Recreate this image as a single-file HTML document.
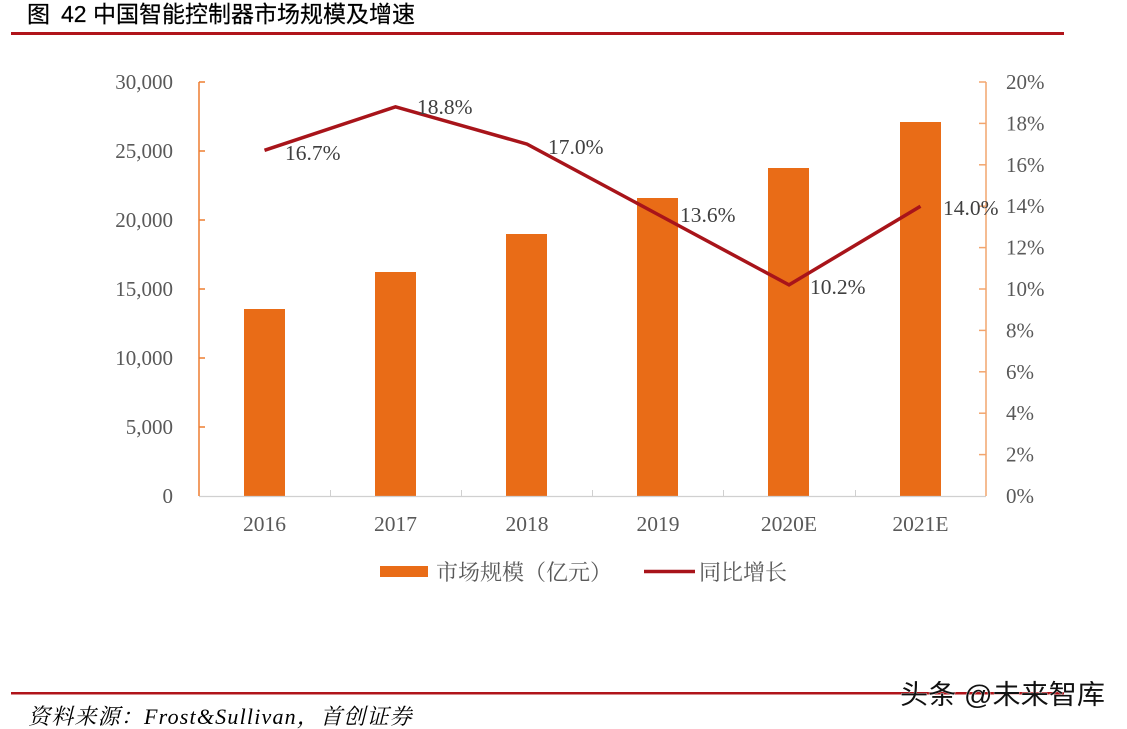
<!DOCTYPE html>
<html><head><meta charset="utf-8"><style>
html,body{margin:0;padding:0;background:#fff;}
body{width:1127px;height:729px;overflow:hidden;position:relative;}
svg{position:absolute;left:0;top:0;}
</style></head><body>
<svg width="1127" height="729" viewBox="0 0 1127 729" xmlns="http://www.w3.org/2000/svg">
<!-- title -->
<g font-family="'Liberation Sans','Noto Sans CJK SC',sans-serif" font-size="23" fill="#000" stroke="#000" stroke-width="0.2">
<text x="27" y="22">图</text>
<text x="61" y="22">42 中国智能控制器市场规模及增速</text>
</g>
<rect x="11" y="32" width="1053" height="3" fill="#B0141A"/>

<!-- bars -->
<g fill="#E96C17">
<rect x="244" y="309" width="41" height="187"/>
<rect x="375" y="272" width="41" height="224"/>
<rect x="506" y="234" width="41" height="262"/>
<rect x="637" y="198" width="41" height="298"/>
<rect x="768" y="168" width="41" height="328"/>
<rect x="900" y="122" width="41" height="374"/>
</g>

<!-- x axis -->
<line x1="199" y1="496.5" x2="986" y2="496.5" stroke="#D0D0D0" stroke-width="1.2"/>
<g stroke="#D0D0D0" stroke-width="1">
<line x1="330.5" y1="490" x2="330.5" y2="496"/>
<line x1="461.5" y1="490" x2="461.5" y2="496"/>
<line x1="592.5" y1="490" x2="592.5" y2="496"/>
<line x1="723.5" y1="490" x2="723.5" y2="496"/>
<line x1="855.5" y1="490" x2="855.5" y2="496"/>
</g>

<!-- left axis -->
<g stroke="#ED7D31" stroke-width="1.5">
<line x1="199" y1="82" x2="199" y2="496"/>
<line x1="199" y1="82" x2="205" y2="82"/>
<line x1="199" y1="151" x2="205" y2="151"/>
<line x1="199" y1="220" x2="205" y2="220"/>
<line x1="199" y1="289" x2="205" y2="289"/>
<line x1="199" y1="358" x2="205" y2="358"/>
<line x1="199" y1="427" x2="205" y2="427"/>
</g>
<!-- right axis -->
<g stroke="#F2A56E" stroke-width="1.5">
<line x1="986" y1="82" x2="986" y2="496"/>
<line x1="979" y1="82" x2="986" y2="82"/>
<line x1="979" y1="123.4" x2="986" y2="123.4"/>
<line x1="979" y1="164.8" x2="986" y2="164.8"/>
<line x1="979" y1="206.2" x2="986" y2="206.2"/>
<line x1="979" y1="247.6" x2="986" y2="247.6"/>
<line x1="979" y1="289" x2="986" y2="289"/>
<line x1="979" y1="330.4" x2="986" y2="330.4"/>
<line x1="979" y1="371.8" x2="986" y2="371.8"/>
<line x1="979" y1="413.2" x2="986" y2="413.2"/>
<line x1="979" y1="454.6" x2="986" y2="454.6"/>
</g>

<!-- left tick labels -->
<g font-family="'Liberation Serif',serif" font-size="21" fill="#595959" text-anchor="end">
<text x="173" y="89">30,000</text>
<text x="173" y="158">25,000</text>
<text x="173" y="227">20,000</text>
<text x="173" y="296">15,000</text>
<text x="173" y="365">10,000</text>
<text x="173" y="434">5,000</text>
<text x="173" y="503">0</text>
</g>
<!-- right tick labels -->
<g font-family="'Liberation Serif',serif" font-size="21" fill="#595959" text-anchor="start">
<text x="1006" y="89">20%</text>
<text x="1006" y="130.4">18%</text>
<text x="1006" y="171.8">16%</text>
<text x="1006" y="213.2">14%</text>
<text x="1006" y="254.6">12%</text>
<text x="1006" y="296">10%</text>
<text x="1006" y="337.4">8%</text>
<text x="1006" y="378.8">6%</text>
<text x="1006" y="420.2">4%</text>
<text x="1006" y="461.6">2%</text>
<text x="1006" y="503">0%</text>
</g>
<!-- x labels -->
<g font-family="'Liberation Serif',serif" font-size="21.5" fill="#595959" text-anchor="middle">
<text x="264.5" y="531">2016</text>
<text x="395.5" y="531">2017</text>
<text x="527" y="531">2018</text>
<text x="658" y="531">2019</text>
<text x="789" y="531">2020E</text>
<text x="920.5" y="531">2021E</text>
</g>

<!-- line -->
<polyline points="264.5,150.3 395.5,106.8 527,144.1 658,214.5 789,284.9 920.5,206.2" fill="none" stroke="#A8141A" stroke-width="3.5" stroke-linejoin="miter"/>

<!-- data labels -->
<g font-family="'Liberation Serif',serif" font-size="21.5" fill="#404040">
<text x="285" y="160">16.7%</text>
<text x="417" y="114">18.8%</text>
<text x="548" y="154">17.0%</text>
<text x="680" y="222">13.6%</text>
<text x="810" y="294">10.2%</text>
<text x="943" y="215">14.0%</text>
</g>

<!-- legend -->
<rect x="380" y="566" width="48" height="11" fill="#E96C17"/>
<text x="436" y="580" font-family="'Liberation Serif','Noto Serif CJK SC',serif" font-size="22" fill="#595959">市场规模（亿元）</text>
<line x1="644" y1="571.5" x2="695" y2="571.5" stroke="#A8141A" stroke-width="3.5"/>
<text x="699" y="580" font-family="'Liberation Serif','Noto Serif CJK SC',serif" font-size="22" fill="#595959">同比增长</text>

<!-- bottom rule & source -->
<rect x="11" y="692" width="1053" height="2.5" fill="#B0141A"/>
<text x="28" y="724" font-family="'Liberation Serif','Noto Serif CJK SC',serif" font-size="22" font-style="italic" fill="#000" letter-spacing="1.2">资料来源：Frost&amp;Sullivan，首创证券</text>

<!-- watermark -->
<text x="900" y="704" font-family="'Liberation Sans','Noto Sans CJK SC',sans-serif" font-size="27" fill="#111" stroke="#fff" stroke-width="0.6" paint-order="stroke" textLength="205" lengthAdjust="spacingAndGlyphs">头条 @未来智库</text>
</svg>
</body></html>
